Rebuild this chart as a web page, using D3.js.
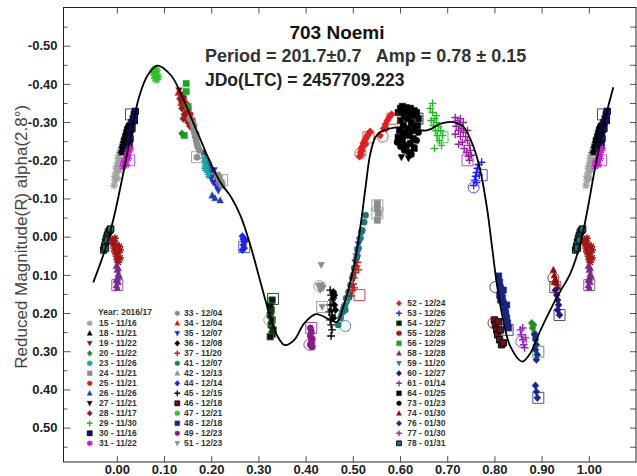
<!DOCTYPE html>
<html>
<head>
<meta charset="utf-8">
<script src="https://cdn.jsdelivr.net/npm/d3@7"></script>
<style>
body { margin: 0; background: #fff; }
svg { display: block; font-family: "Liberation Sans", Arial, Helvetica, sans-serif; }
</style>
</head>
<body>
<svg id="chart" width="637" height="476"></svg>
<script>
const title = '703 Noemi'
const periodText = 'Period = 201.7\u00b10.7   Amp = 0.78 \u00b1 0.15'
const epochText = 'JDo(LTC) = 2457709.223'
const yLabel = 'Reduced Magnitude(R) alpha(2.8\u00b0)'
const legendTitle = 'Year: 2016/17'

const sessionIds = [15, 18, 19, 20, 23, 24, 25, 26, 27, 28, 29, 30, 31,
    33, 34, 35, 36, 37, 41, 42, 44, 45, 46, 47, 48, 49, 51,
    52, 53, 54, 55, 56, 58, 59, 60, 61, 64, 73, 74, 76, 77, 78]
const sessionDates = ['11/16', '11/21', '11/22', '11/22', '11/26', '11/21', '11/21', '11/26', '11/21', '11/17', '11/30', '11/16', '11/22',
    '12/04', '12/04', '12/07', '12/08', '11/20', '12/07', '12/13', '12/14', '12/15', '12/18', '12/21', '12/18', '12/23', '12/23',
    '12/24', '12/26', '12/27', '12/28', '12/29', '12/28', '11/20', '12/27', '01/14', '01/25', '01/23', '01/30', '01/30', '01/30', '01/31']

const xTicks = [0, 0.1, 0.2, 0.3, 0.4, 0.5, 0.6, 0.7, 0.8, 0.9, 1.0]
const yTicks = [-0.5, -0.4, -0.3, -0.2, -0.1, 0, 0.1, 0.2, 0.3, 0.4, 0.5]
const yMinorTicks = [-0.55, -0.45, -0.35, -0.25, -0.15, -0.05, 0.05, 0.15, 0.25, 0.35, 0.45, 0.55]

// fourier fit, [phase, mag]
const fitCurve = [[-0.050, 0.120], [-0.023, 0.027], [-0.006, -0.052], [0.012, -0.156], [0.030, -0.269],
    [0.047, -0.365], [0.065, -0.422], [0.086, -0.448], [0.115, -0.422], [0.136, -0.374], [0.157, -0.313],
    [0.178, -0.252], [0.199, -0.191], [0.221, -0.139], [0.242, -0.104], [0.263, -0.052], [0.284, 0.027],
    [0.305, 0.122], [0.323, 0.201], [0.341, 0.262], [0.356, 0.284], [0.376, 0.270], [0.397, 0.227],
    [0.422, 0.203], [0.452, 0.218], [0.467, 0.223], [0.480, 0.183], [0.502, 0.079], [0.516, -0.026],
    [0.527, -0.130], [0.537, -0.217], [0.548, -0.261], [0.558, -0.274], [0.601, -0.287], [0.657, -0.278],
    [0.686, -0.296], [0.714, -0.300], [0.735, -0.287], [0.756, -0.234], [0.770, -0.174], [0.785, -0.069],
    [0.795, 0.027], [0.806, 0.131], [0.820, 0.227], [0.834, 0.288], [0.859, 0.327], [0.876, 0.305],
    [0.898, 0.244], [0.933, 0.157], [0.961, 0.096], [0.982, 0.018], [0.997, -0.069], [1.011, -0.165],
    [1.025, -0.252], [1.039, -0.330], [1.052, -0.391]]

// [session, phase, mag]
const observations = [
    [15, -0.006, -0.134], [15, -0.004, -0.148], [15, -0.004, -0.158], [15, -0.001, -0.168], [15, -0.001, -0.179],
    [15, 0.001, -0.187], [15, 0.003, -0.195], [15, 0.003, -0.205], [15, 0.005, -0.213], [15, 0.007, -0.221],
    [15, 0.009, -0.226], [15, 0.011, -0.234], [15, 0.001, -0.153], [15, 0.005, -0.174], [15, 0.007, -0.200],
    [18, 0.009, -0.226], [18, 0.011, -0.239], [18, 0.013, -0.252], [18, 0.015, -0.262], [18, 0.018, -0.273],
    [18, 0.020, -0.283], [18, 0.022, -0.291], [18, 0.015, -0.244], [18, 0.020, -0.260], [18, 0.024, -0.278],
    [18, 0.011, -0.221], [18, 0.018, -0.252],
    [27, 0.013, -0.234], [27, 0.018, -0.247], [27, 0.022, -0.268], [27, 0.026, -0.286],
    [30, 0.022, -0.231], [30, 0.024, -0.247], [30, 0.026, -0.262], [30, 0.028, -0.278], [30, 0.030, -0.289],
    [30, 0.032, -0.299], [30, 0.035, -0.309], [30, 0.037, -0.320], [30, 0.039, -0.328], [30, 0.028, -0.257],
    [30, 0.032, -0.283], [30, 0.037, -0.304], [30, 0.026, -0.239],
    [31, 0.013, -0.184], [31, 0.015, -0.195], [31, 0.018, -0.200], [31, 0.020, -0.205], [31, 0.022, -0.213],
    [31, 0.024, -0.221], [31, 0.026, -0.226], [31, 0.028, -0.231], [31, 0.020, -0.189], [31, 0.024, -0.205],
    [78, 0.972, 0.035], [78, 0.974, 0.025], [78, 0.976, 0.014], [78, 0.978, 0.004], [78, 0.980, -0.004],
    [78, 0.982, -0.012], [78, 0.985, -0.017], [78, 0.976, 0.030], [78, 0.980, 0.009], [78, 0.987, -0.020],
    [55, -0.010, 0.009], [55, -0.008, 0.020], [55, -0.006, 0.030], [55, -0.004, 0.040], [55, -0.001, 0.051],
    [55, 0.001, 0.061], [55, 0.003, 0.067], [55, 0.005, 0.025], [55, 0.007, 0.035], [55, -0.006, 0.012],
    [55, -0.001, 0.022], [55, 0.003, 0.043], [55, 0.007, 0.056], [55, -0.004, 0.004],
    [58, -0.001, 0.077], [58, 0.001, 0.087], [58, 0.003, 0.098], [58, 0.001, 0.108], [58, 0.003, 0.119],
    [58, -0.001, 0.127], [58, 0.001, 0.134], [58, 0.005, 0.103], [58, 0.003, 0.082], [58, -0.001, 0.114],
    [47, 0.077, -0.435], [47, 0.079, -0.430], [47, 0.081, -0.440], [47, 0.083, -0.424], [47, 0.085, -0.435],
    [47, 0.088, -0.419], [47, 0.081, -0.414], [47, 0.079, -0.422], [47, 0.085, -0.411], [47, 0.083, -0.432],
    [34, 0.130, -0.377], [34, 0.134, -0.367], [34, 0.138, -0.356], [34, 0.143, -0.346], [34, 0.147, -0.330],
    [34, 0.136, -0.349], [34, 0.141, -0.369], [34, 0.145, -0.356], [34, 0.149, -0.317],
    [19, 0.132, -0.383], [19, 0.136, -0.372], [19, 0.141, -0.362], [19, 0.145, -0.341], [19, 0.151, -0.325],
    [19, 0.134, -0.356],
    [28, 0.138, -0.336], [28, 0.143, -0.320], [28, 0.147, -0.309], [28, 0.151, -0.299], [28, 0.155, -0.289],
    [28, 0.141, -0.309],
    [25, 0.147, -0.346], [25, 0.151, -0.336], [25, 0.155, -0.320], [25, 0.160, -0.304], [25, 0.153, -0.309],
    [25, 0.162, -0.283], [25, 0.158, -0.294],
    [56, 0.147, -0.401], [56, 0.147, -0.380], [56, 0.151, -0.341], [56, 0.143, -0.265],
    [20, 0.138, -0.270],
    [33, 0.155, -0.309], [33, 0.160, -0.299], [33, 0.162, -0.286], [33, 0.164, -0.273], [33, 0.166, -0.262],
    [33, 0.168, -0.252], [33, 0.170, -0.242], [33, 0.172, -0.234], [33, 0.164, -0.291], [33, 0.168, -0.270],
    [33, 0.175, -0.226], [33, 0.170, -0.208],
    [26, 0.185, -0.221], [26, 0.189, -0.210], [26, 0.194, -0.200], [26, 0.198, -0.187], [26, 0.202, -0.174],
    [26, 0.206, -0.161], [26, 0.211, -0.148], [26, 0.215, -0.132], [26, 0.202, -0.108], [26, 0.208, -0.101],
    [26, 0.219, -0.095], [26, 0.198, -0.161], [26, 0.194, -0.179],
    [35, 0.189, -0.187], [35, 0.194, -0.168], [35, 0.200, -0.153], [35, 0.204, -0.142], [35, 0.211, -0.132],
    [35, 0.215, -0.121], [35, 0.206, -0.174],
    [35, 0.505, 0.067], [35, 0.508, 0.051], [35, 0.510, 0.035], [35, 0.512, 0.020], [35, 0.514, 0.009],
    [35, 0.510, 0.056],
    [23, 0.185, -0.205], [23, 0.187, -0.195], [23, 0.189, -0.184], [23, 0.191, -0.174], [23, 0.194, -0.163],
    [23, 0.187, -0.179],
    [24, 0.213, -0.161], [24, 0.217, -0.153], [24, 0.221, -0.142], [24, 0.223, -0.134],
    [24, 0.552, -0.087], [24, 0.552, -0.074], [24, 0.554, -0.061], [24, 0.552, -0.043],
    [44, 0.266, -0.001], [44, 0.268, 0.007], [44, 0.270, 0.014], [44, 0.268, 0.022], [44, 0.270, 0.030],
    [44, 0.266, 0.035], [44, 0.272, 0.009],
    [54, 0.329, 0.166], [54, 0.327, 0.192], [54, 0.325, 0.205], [54, 0.329, 0.218], [54, 0.327, 0.231],
    [54, 0.331, 0.244], [54, 0.329, 0.255], [54, 0.325, 0.182], [54, 0.325, 0.262],
    [49, 0.410, 0.239], [49, 0.412, 0.249], [49, 0.410, 0.260], [49, 0.414, 0.268], [49, 0.412, 0.275],
    [49, 0.410, 0.283], [49, 0.414, 0.289],
    [51, 0.433, 0.074], [51, 0.427, 0.129], [51, 0.433, 0.127], [51, 0.437, 0.134], [51, 0.431, 0.140],
    [51, 0.435, 0.184],
    [45, 0.452, 0.140], [45, 0.454, 0.153], [45, 0.456, 0.166], [45, 0.452, 0.179], [45, 0.454, 0.192],
    [45, 0.456, 0.205], [45, 0.452, 0.218], [45, 0.454, 0.231], [45, 0.456, 0.244], [45, 0.454, 0.260],
    [45, 0.459, 0.161], [45, 0.450, 0.197],
    [36, 0.461, 0.179], [36, 0.463, 0.192], [36, 0.459, 0.213], [36, 0.461, 0.153], [36, 0.459, 0.145],
    [41, 0.469, 0.231], [41, 0.474, 0.213], [41, 0.478, 0.197], [41, 0.482, 0.182], [41, 0.486, 0.161],
    [41, 0.491, 0.145], [41, 0.495, 0.127], [41, 0.499, 0.108], [41, 0.503, 0.082], [41, 0.508, 0.056],
    [41, 0.512, 0.030], [41, 0.516, 0.004], [41, 0.520, -0.017], [41, 0.524, -0.038], [41, 0.527, -0.056],
    [41, 0.484, 0.192], [41, 0.493, 0.153], [41, 0.501, 0.100], [41, 0.510, 0.035], [41, 0.518, -0.012],
    [59, 0.476, 0.208], [59, 0.480, 0.192], [59, 0.486, 0.179], [59, 0.491, 0.166],
    [37, 0.497, 0.155], [37, 0.499, 0.140], [37, 0.501, 0.124], [37, 0.503, 0.108], [37, 0.505, 0.093],
    [37, 0.508, 0.077], [37, 0.510, 0.067], [37, 0.512, 0.087], [37, 0.503, 0.134],
    [52, 0.514, -0.210], [52, 0.516, -0.221], [52, 0.518, -0.231], [52, 0.520, -0.236], [52, 0.522, -0.244],
    [52, 0.524, -0.249], [52, 0.527, -0.255], [52, 0.529, -0.260], [52, 0.531, -0.265], [52, 0.533, -0.268],
    [52, 0.535, -0.273], [52, 0.537, -0.275], [52, 0.520, -0.226], [52, 0.527, -0.242], [52, 0.518, -0.215],
    [52, 0.558, -0.265], [52, 0.565, -0.283], [52, 0.569, -0.294], [52, 0.573, -0.304], [52, 0.577, -0.312],
    [52, 0.582, -0.320], [52, 0.571, -0.283],
    [64, 0.596, -0.325], [64, 0.601, -0.336], [64, 0.605, -0.341], [64, 0.609, -0.330], [64, 0.613, -0.338],
    [64, 0.618, -0.325], [64, 0.622, -0.336], [64, 0.626, -0.317], [64, 0.630, -0.330], [64, 0.635, -0.325],
    [64, 0.639, -0.309], [64, 0.601, -0.304], [64, 0.607, -0.291], [64, 0.616, -0.309], [64, 0.624, -0.299],
    [64, 0.632, -0.283], [64, 0.599, -0.278], [64, 0.611, -0.273], [64, 0.620, -0.265], [64, 0.628, -0.257],
    [64, 0.637, -0.291], [64, 0.605, -0.252], [64, 0.613, -0.239], [64, 0.622, -0.244], [64, 0.596, -0.260],
    [64, 0.630, -0.231], [64, 0.609, -0.315], [64, 0.618, -0.283], [64, 0.626, -0.278],
    [73, 0.601, -0.236], [73, 0.609, -0.226], [73, 0.618, -0.221], [73, 0.594, -0.247], [73, 0.624, -0.215],
    [73, 0.635, -0.252], [73, 0.639, -0.273], [73, 0.607, -0.265],
    [27, 0.603, -0.208], [27, 0.628, -0.234], [27, 0.618, -0.205],
    [29, 0.664, -0.336], [29, 0.669, -0.325], [29, 0.673, -0.309], [29, 0.677, -0.299], [29, 0.681, -0.289],
    [29, 0.686, -0.278], [29, 0.671, -0.291], [29, 0.675, -0.278], [29, 0.679, -0.265], [29, 0.683, -0.252],
    [29, 0.688, -0.239], [29, 0.673, -0.231], [29, 0.666, -0.304], [29, 0.690, -0.265], [29, 0.677, -0.317],
    [29, 0.669, -0.349],
    [61, 0.717, -0.312], [61, 0.722, -0.304], [61, 0.726, -0.294], [61, 0.730, -0.283], [61, 0.734, -0.273],
    [61, 0.739, -0.262], [61, 0.743, -0.252], [61, 0.747, -0.239], [61, 0.749, -0.226], [61, 0.751, -0.213],
    [61, 0.724, -0.278], [61, 0.728, -0.262], [61, 0.732, -0.247], [61, 0.736, -0.231], [61, 0.741, -0.221],
    [61, 0.745, -0.210], [61, 0.747, -0.200], [61, 0.719, -0.289], [61, 0.728, -0.309], [61, 0.734, -0.299],
    [61, 0.743, -0.278], [61, 0.717, -0.268], [61, 0.724, -0.242],
    [53, 0.756, -0.134], [53, 0.758, -0.148], [53, 0.760, -0.158], [53, 0.762, -0.168], [53, 0.764, -0.179],
    [53, 0.766, -0.189], [53, 0.768, -0.161], [53, 0.773, -0.195], [53, 0.762, -0.142],
    [48, 0.809, 0.103], [48, 0.811, 0.119], [48, 0.813, 0.134], [48, 0.815, 0.147], [48, 0.817, 0.161],
    [48, 0.819, 0.174], [48, 0.822, 0.187], [48, 0.824, 0.200], [48, 0.826, 0.213], [48, 0.828, 0.226],
    [48, 0.830, 0.239], [48, 0.813, 0.166], [48, 0.819, 0.140], [48, 0.826, 0.179], [48, 0.811, 0.153],
    [46, 0.800, 0.218], [46, 0.802, 0.231], [46, 0.805, 0.244], [46, 0.807, 0.257], [46, 0.811, 0.270],
    [46, 0.815, 0.283], [46, 0.819, 0.278], [46, 0.813, 0.244], [46, 0.809, 0.223],
    [77, 0.855, 0.244], [77, 0.857, 0.257], [77, 0.860, 0.270], [77, 0.862, 0.283], [77, 0.864, 0.291],
    [77, 0.866, 0.265], [77, 0.860, 0.239],
    [20, 0.879, 0.226], [20, 0.881, 0.239], [20, 0.885, 0.252], [20, 0.887, 0.265], [20, 0.883, 0.231],
    [76, 0.885, 0.257], [76, 0.887, 0.270], [76, 0.889, 0.283], [76, 0.887, 0.296], [76, 0.891, 0.309],
    [76, 0.889, 0.322], [76, 0.887, 0.390], [76, 0.889, 0.406], [76, 0.891, 0.422],
    [74, 0.925, 0.087], [74, 0.927, 0.101], [74, 0.929, 0.111], [74, 0.932, 0.121], [74, 0.934, 0.132],
    [74, 0.927, 0.119],
    [60, 0.929, 0.140], [60, 0.932, 0.153], [60, 0.934, 0.166], [60, 0.936, 0.179], [60, 0.934, 0.192],
    [60, 0.938, 0.205]
]

// open markers round some points: [session, shape, phase, mag]
const rings = [
    [30, 'square', 0.030, -0.320], [31, 'square', 0.026, -0.200], [58, 'square', 0.001, 0.127],
    [33, 'square', 0.170, -0.208], [24, 'square', 0.223, -0.148], [44, 'square', 0.270, 0.027],
    [54, 'square', 0.331, 0.163], [33, 'circle', 0.323, 0.218], [49, 'square', 0.412, 0.239],
    [49, 'circle', 0.408, 0.283], [51, 'square', 0.435, 0.184], [51, 'circle', 0.429, 0.129],
    [41, 'circle', 0.484, 0.234], [37, 'square', 0.514, 0.153], [24, 'square', 0.552, -0.082],
    [24, 'square', 0.552, -0.061], [52, 'square', 0.533, -0.260], [52, 'square', 0.584, -0.309],
    [52, 'circle', 0.563, -0.262], [52, 'circle', 0.516, -0.218], [64, 'square', 0.637, -0.309],
    [29, 'square', 0.690, -0.260], [61, 'square', 0.743, -0.200], [53, 'square', 0.773, -0.161],
    [53, 'circle', 0.756, -0.129], [48, 'circle', 0.802, 0.132], [46, 'circle', 0.798, 0.226],
    [48, 'square', 0.828, 0.244], [77, 'circle', 0.857, 0.275], [20, 'square', 0.893, 0.301],
    [76, 'square', 0.893, 0.422], [74, 'circle', 0.925, 0.108], [74, 'square', 0.929, 0.132],
    [60, 'square', 0.938, 0.205]
]

// marker style per session: shape, fill, outline
const sessionStyle = {
    15: ['asterisk', '#a3a3a3'], 18: ['triUp', '#000'], 19: ['triDown', '#8b1a1a'], 20: ['diamond', '#2a8a2a'],
    23: ['asterisk', '#1fa3a3'], 24: ['square', '#8c8c8c'], 25: ['circle', '#e01a1a'], 26: ['triUp', '#1f3cb4'],
    27: ['triDown', '#000'], 28: ['diamond', '#8b2020'], 29: ['plus', '#22bb22'], 30: ['square', '#141470', '#000'],
    31: ['asterisk', '#c020c8'], 33: ['circle', '#8c8c8c'], 34: ['triUp', '#cc2020'], 35: ['triDown', '#1f30c0'],
    36: ['diamond', '#000'], 37: ['plus', '#c01818'], 41: ['circle', '#1f7878'], 42: ['triUp', '#8c8c8c'],
    44: ['diamond', '#2323e0'], 45: ['plus', '#000'], 46: ['square', '#6b1414', '#000'], 47: ['asterisk', '#33c033'],
    48: ['square', '#1a2480'], 49: ['circle', '#8a1a8a'], 51: ['triDown', '#8c8c8c'], 52: ['diamond', '#dd2020'],
    53: ['plus', '#2020ff'], 54: ['square', '#111', '#1a7a1a'], 55: ['asterisk', '#a01818'], 56: ['square', '#22a022'],
    58: ['triUp', '#7a2a8a'], 59: ['triDown', '#1f8080'], 60: ['diamond', '#1a1a80'], 61: ['plus', '#9a20a8'],
    64: ['square', '#000'], 73: ['circle', '#000'], 74: ['triUp', '#8b1010'], 76: ['diamond', '#1a2a90'],
    77: ['plus', '#9a20c0'], 78: ['square', '#1f6f6f', '#000']
}

const width = 637, height = 476
const frame = {left: 63.5, right: 636, top: 7.5, bottom: 462}

const svg = d3.select('#chart')

const x = d3.scaleLinear().domain([-0.113, 1.1]).range([frame.left, frame.right])
const y = d3.scaleLinear().domain([-0.6, 0.59]).range([frame.top, frame.bottom])

const locale = d3.formatLocale({decimal: '.', thousands: ',', grouping: [3], currency: ['', ''], minus: '-'})
const fmt = locale.format('.2f')

function markPath(shape, r) {
    switch (shape) {
        case 'square': return `M${-r},${-r}h${2 * r}v${2 * r}h${-2 * r}Z`
        case 'circle': return d3.symbol(d3.symbolCircle, Math.PI * r * r)()
        case 'triUp': return `M0,${-r * 1.15}L${r * 1.05},${r * 0.85}L${-r * 1.05},${r * 0.85}Z`
        case 'triDown': return `M0,${r * 1.15}L${r * 1.05},${-r * 0.85}L${-r * 1.05},${-r * 0.85}Z`
        case 'diamond': return `M0,${-r * 1.2}L${r * 1.1},0L0,${r * 1.2}L${-r * 1.1},0Z`
        case 'plus': return `M${-r * 1.2},0H${r * 1.2}M0,${-r * 1.2}V${r * 1.2}`
        case 'asterisk': {
            let d = r * 1.2, e = r * 0.85
            return `M${-d},0H${d}M0,${-d}V${d}M${-e},${-e}L${e},${e}M${e},${-e}L${-e},${e}`
        }
    }
}

function drawMark(g, id, r) {
    let [shape, color, outline] = sessionStyle[id]
    let p = g.append('path').attr('d', markPath(shape, r))
    if (shape === 'plus' || shape === 'asterisk') {
        p.attr('fill', 'none').attr('stroke', color).attr('stroke-width', 1.4)
    } else {
        p.attr('fill', color).attr('stroke', outline || color).attr('stroke-width', outline ? 0.9 : 0.4)
    }
    return p
}

// a phase near 0 or 1 is shown a second time one cycle away
function phaseCopies(p) {
    let out = [p]
    if (p + 1 <= 1.06) out.push(p + 1)
    if (p - 1 >= -0.06) out.push(p - 1)
    return out
}

let plot = svg.append('g')

// observations
let pts = plot.append('g')
observations.forEach(([id, p, m]) => {
    phaseCopies(p).forEach(pp => {
        let g = pts.append('g').attr('transform', `translate(${x(pp)},${y(m)})`)
        drawMark(g, id, 3.2)
    })
})

// open rings
rings.forEach(([id, shape, p, m]) => {
    phaseCopies(p).forEach(pp => {
        plot.append('path')
            .attr('transform', `translate(${x(pp)},${y(m)})`)
            .attr('d', markPath(shape, 5.5))
            .attr('fill', 'none')
            .attr('stroke', sessionStyle[id][1])
            .attr('stroke-width', 0.8)
    })
})

// fit curve
plot.append('path')
    .datum(fitCurve)
    .attr('fill', 'none')
    .attr('stroke', '#000')
    .attr('stroke-width', 1.8)
    .attr('d', d3.line().x(d => x(d[0])).y(d => y(d[1])).curve(d3.curveCatmullRom))

// axes, ticks pointing inward
let tickColor = '#555'
svg.append('g')
    .attr('transform', `translate(${frame.left},0)`)
    .call(d3.axisLeft(y).tickValues(yTicks).tickFormat(fmt).tickSizeInner(-7).tickSizeOuter(0).tickPadding(6))
svg.append('g')
    .attr('transform', `translate(${frame.left},0)`)
    .call(d3.axisLeft(y).tickValues(yMinorTicks).tickFormat('').tickSizeInner(-4).tickSizeOuter(0))
svg.append('g')
    .attr('transform', `translate(${frame.right},0)`)
    .call(d3.axisRight(y).tickValues(yTicks.concat(yMinorTicks)).tickFormat('').tickSizeInner(-6).tickSizeOuter(0))
svg.append('g')
    .attr('transform', `translate(0,${frame.bottom})`)
    .call(d3.axisBottom(x).tickValues(xTicks).tickFormat(fmt).tickSizeInner(-6).tickSizeOuter(0).tickPadding(3))
svg.append('g')
    .attr('transform', `translate(0,${frame.top})`)
    .call(d3.axisTop(x).tickValues(xTicks).tickFormat('').tickSizeInner(-6).tickSizeOuter(0))

svg.selectAll('.domain').remove()
svg.selectAll('.tick line').attr('stroke', tickColor)
svg.selectAll('.tick text')
    .attr('fill', '#222')
    .style('font-size', '13px')
    .style('font-weight', 'bold')
    .style('font-family', '"Liberation Sans", Arial, sans-serif')

svg.append('rect')
    .attr('x', frame.left).attr('y', frame.top)
    .attr('width', frame.right - frame.left).attr('height', frame.bottom - frame.top)
    .attr('fill', 'none').attr('stroke', '#222').attr('stroke-width', 1)

// y label
svg.append('text')
    .attr('transform', `translate(27,${(frame.top + frame.bottom) / 2 + 2}) rotate(-90)`)
    .attr('text-anchor', 'middle')
    .style('font-size', '17px')
    .attr('fill', '#444')
    .text(yLabel)

// header texts
svg.append('text')
    .attr('x', 337).attr('y', 39)
    .attr('text-anchor', 'middle')
    .style('font-size', '19px').style('font-weight', 'bold')
    .attr('fill', '#111')
    .text(title)
svg.append('text')
    .attr('x', 205).attr('y', 62)
    .style('font-size', '18px').style('font-weight', 'bold').style('white-space', 'pre')
    .attr('fill', '#333')
    .text(periodText)
svg.append('text')
    .attr('x', 205).attr('y', 86)
    .style('font-size', '17.5px').style('font-weight', 'bold')
    .attr('fill', '#222')
    .text(epochText)

// legend, three columns
let legendCols = [
    {from: 0, to: 13, sx: 89.7, tx: 99, y0: 323.3},
    {from: 13, to: 27, sx: 177.3, tx: 184, y0: 313.3},
    {from: 27, to: 42, sx: 399, tx: 407.3, y0: 303.3}
]
let legend = svg.append('g').style('font-size', '8.5px').style('font-weight', 'bold')
legend.append('text')
    .attr('x', 98).attr('y', 315.3)
    .attr('fill', '#333')
    .text(legendTitle)
legendCols.forEach(col => {
    sessionIds.slice(col.from, col.to).forEach((id, i) => {
        let cy = col.y0 + i * 10
        let g = legend.append('g').attr('transform', `translate(${col.sx},${cy})`)
        drawMark(g, id, 2.4)
        legend.append('text')
            .attr('x', col.tx).attr('y', cy + 3)
            .attr('fill', '#333')
            .text(`${id} - ${sessionDates[col.from + i]}`)
    })
})
</script>
</body>
</html>
